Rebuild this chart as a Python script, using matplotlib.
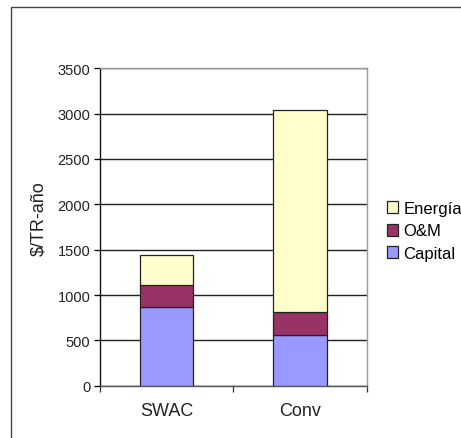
import numpy as np
import matplotlib.pyplot as plt
from matplotlib.patches import Rectangle

plt.rcParams['font.family'] = ['Liberation Sans', 'DejaVu Sans']

categories = ["SWAC", "Conv"]
capital = [870, 560]
om = [245, 250]
energia = [330, 2230]
series_names = ["Capital", "O&M", "Energía"]
colors = ["#9999FF", "#993366", "#FFFFCC"]

fig = plt.figure(figsize=(4.61, 4.39), dpi=100)
ax = fig.add_axes([100 / 461, 52.3 / 439, 266.7 / 461, 317.4 / 439])

x = np.arange(len(categories))
bottom = np.zeros(len(categories))
for vals, name, c in zip([capital, om, energia], series_names, colors):
    ax.bar(x, vals, 0.4, bottom=bottom, color=c, edgecolor="#222222",
           linewidth=0.9, label=name, zorder=3)
    bottom += np.array(vals)

ax.set_xlim(-0.5, 1.5)
ax.set_ylim(0, 3500)
ax.set_yticks(np.arange(0, 3501, 500))
ax.yaxis.grid(True, color="#222222", linewidth=1.0, zorder=0)
ax.set_axisbelow(True)

# category ticks on boundaries, labels centered
ax.set_xticks([-0.5, 0.5, 1.5])
ax.set_xticklabels([])
ax.set_xticks(x, minor=True)
ax.set_xticklabels(categories, minor=True, fontsize=13, color="#222222")
ax.tick_params(axis="x", which="minor", length=0, pad=12)
ax.tick_params(axis="x", which="major", length=4, width=0.9, color="#333333")
ax.tick_params(axis="y", length=4, width=0.9, labelsize=10.5, pad=3, labelcolor="#222222")

ax.spines["top"].set_color("#999999")
ax.spines["right"].set_color("#999999")
ax.spines["left"].set_color("#111111")
ax.spines["bottom"].set_color("#555555")
for s in ax.spines.values():
    s.set_linewidth(1.0)

ax.set_ylabel("$/TR-año", fontsize=13, color="#222222")
ax.yaxis.set_label_coords(-0.198, 0.53)

h, l = ax.get_legend_handles_labels()
leg = fig.legend(h[::-1], l[::-1], loc="center left",
                 bbox_to_anchor=(380 / 461, 1 - 232 / 439), frameon=False,
                 fontsize=12, handlelength=0.7, handleheight=0.7,
                 handletextpad=0.3, labelspacing=0.45, borderaxespad=0)

# outer chart frame (cut off at right and bottom)
fig.patches.append(Rectangle((11 / 461, -0.05), 1.1, 1 - 8 / 439 + 0.05,
                             transform=fig.transFigure, fill=False,
                             edgecolor="#444444", linewidth=1.0))

fig.savefig("out.png", dpi=100)
